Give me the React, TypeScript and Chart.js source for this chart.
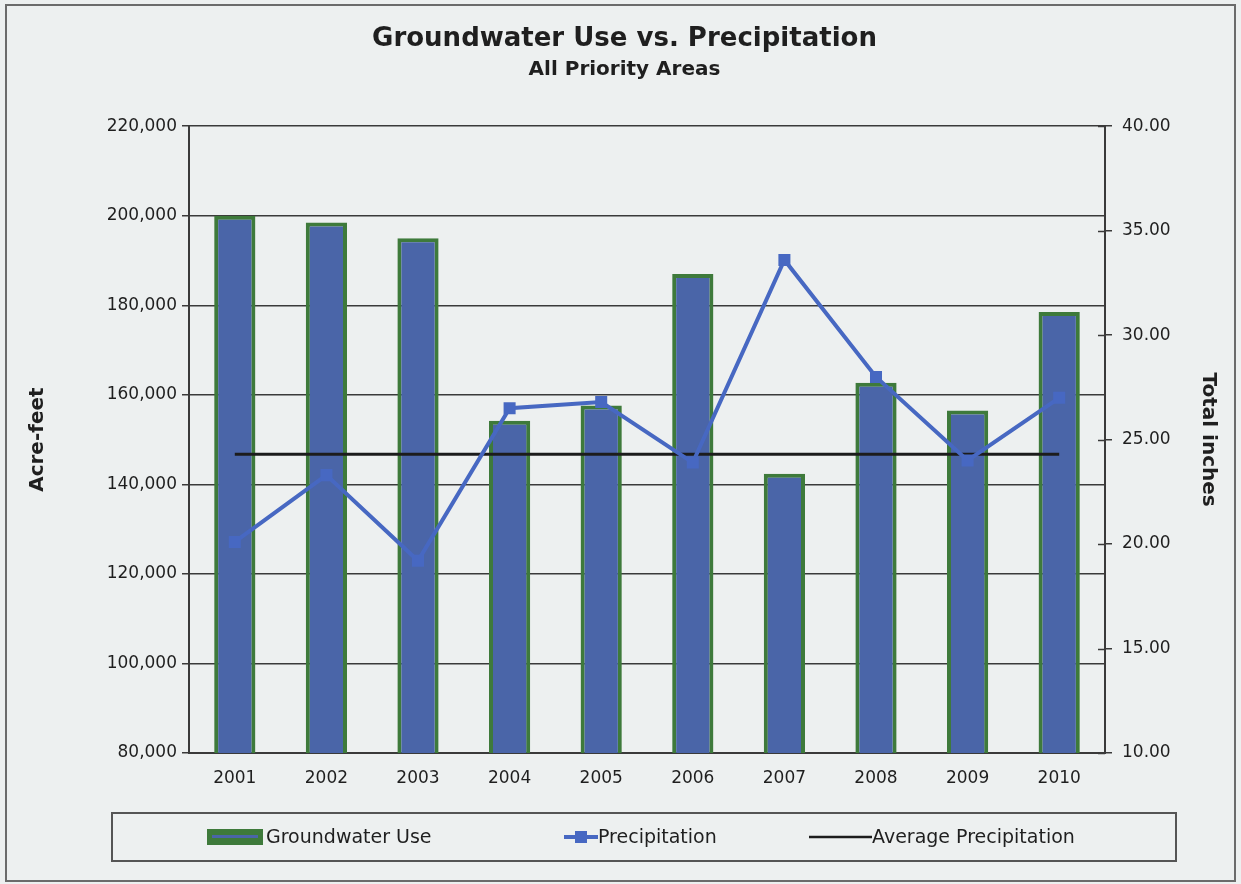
import React, { useEffect, useRef } from "react";
import { Chart, registerables } from "chart.js";

Chart.register(...registerables);

const years = ["2001", "2002", "2003", "2004", "2005", "2006", "2007", "2008", "2009", "2010"];
const groundwaterUse = [200000, 198500, 195000, 154200, 157600, 187000, 142400, 162700, 156500, 178500];
const precipitation = [20.1, 23.3, 19.2, 26.5, 26.8, 23.9, 33.6, 28.0, 24.0, 27.0];
const averagePrecipitation = [24.3, 24.3, 24.3, 24.3, 24.3, 24.3, 24.3, 24.3, 24.3, 24.3];

const FONT = "'DejaVu Sans', 'Liberation Sans', Arial, sans-serif";
const BG = "#edf0f0";
const BAR_FILL = "#4a65a8";
const BAR_BORDER = "#3e7a3b";
const LINE = "#4768c2";
const AVG = "#1c1c1c";
const TEXT = "#1f1f1f";
const GRID = "#3a3a3a";

const backgroundPlugin = {
  id: "bgFrame",
  beforeDraw(chart: any) {
    const { ctx, width, height } = chart;
    ctx.save();
    ctx.fillStyle = BG;
    ctx.fillRect(0, 0, width, height);
    ctx.strokeStyle = "#6b6b6b";
    ctx.lineWidth = 2;
    ctx.strokeRect(6, 5, width - 12, height - 8);
    ctx.restore();
  },
};

const rightTicksPlugin = {
  id: "rightInnerTicks",
  afterDraw(chart: any) {
    const s = chart.scales.y1;
    const { ctx, chartArea } = chart;
    ctx.save();
    ctx.strokeStyle = GRID;
    ctx.lineWidth = 1.5;
    s.ticks.forEach((_t: any, i: number) => {
      const y = Math.round(s.getPixelForTick(i)) + 0.5;
      ctx.beginPath();
      ctx.moveTo(chartArea.right - 7, y);
      ctx.lineTo(chartArea.right, y);
      ctx.stroke();
    });
    ctx.restore();
  },
};

const legendPlugin = {
  id: "boxLegend",
  afterDraw(chart: any) {
    const { ctx, chartArea } = chart;
    const top = chartArea.bottom + 60;
    const bottom = chartArea.bottom + 108;
    const left = 112;
    const right = 1176;
    const cy = (top + bottom) / 2;
    const ds = chart.data.datasets;
    ctx.save();
    ctx.strokeStyle = "#555";
    ctx.lineWidth = 2;
    ctx.strokeRect(left, top, right - left, bottom - top);
    ctx.font = `19px ${FONT}`;
    ctx.fillStyle = TEXT;
    ctx.textBaseline = "middle";
    ctx.textAlign = "left";

    // Groundwater Use swatch
    ctx.fillStyle = BAR_BORDER;
    ctx.fillRect(207, cy - 8, 56, 16);
    ctx.fillStyle = BAR_FILL;
    ctx.fillRect(212, cy - 2, 46, 3);
    ctx.fillStyle = TEXT;
    ctx.fillText(ds[0].label, 266, cy + 1);

    // Precipitation
    ctx.strokeStyle = LINE;
    ctx.lineWidth = 4;
    ctx.beginPath();
    ctx.moveTo(564, cy);
    ctx.lineTo(598, cy);
    ctx.stroke();
    ctx.fillStyle = LINE;
    ctx.fillRect(575, cy - 6, 12, 12);
    ctx.fillStyle = TEXT;
    ctx.fillText(ds[1].label, 598, cy + 1);

    // Average Precipitation
    ctx.strokeStyle = AVG;
    ctx.lineWidth = 2.5;
    ctx.beginPath();
    ctx.moveTo(809, cy);
    ctx.lineTo(872, cy);
    ctx.stroke();
    ctx.fillStyle = TEXT;
    ctx.fillText(ds[2].label, 872, cy + 1);
    ctx.restore();
  },
};

export default function App() {
  const ref = useRef<HTMLCanvasElement | null>(null);

  useEffect(() => {
    if (!ref.current) return;
    const chart = new Chart(ref.current, {
      data: {
        labels: years,
        datasets: [
          {
            type: "bar",
            label: "Groundwater Use",
            data: groundwaterUse,
            yAxisID: "y",
            backgroundColor: BAR_FILL,
            borderColor: BAR_BORDER,
            borderWidth: 4,
            barPercentage: 0.45,
            categoryPercentage: 1,
            order: 3,
          },
          {
            type: "line",
            label: "Precipitation",
            data: precipitation,
            yAxisID: "y1",
            borderColor: LINE,
            backgroundColor: LINE,
            borderWidth: 4,
            pointStyle: "rect",
            pointRadius: 8.5,
            pointBorderWidth: 0,
            tension: 0,
            order: 1,
          },
          {
            type: "line",
            label: "Average Precipitation",
            data: averagePrecipitation,
            yAxisID: "y1",
            borderColor: AVG,
            backgroundColor: AVG,
            borderWidth: 3,
            pointRadius: 0,
            order: 2,
          },
        ],
      } as any,
      options: {
        responsive: false,
        animation: false,
        devicePixelRatio: 1,
        layout: { padding: { top: 12, left: 8, right: 0, bottom: 101 } },
        plugins: {
          legend: { display: false },
          tooltip: { enabled: false },
          title: {
            display: true,
            text: "Groundwater Use vs. Precipitation",
            color: TEXT,
            font: { family: FONT, size: 26, weight: "bold" },
            padding: { top: 12, bottom: 0 },
          },
          subtitle: {
            display: true,
            text: "All Priority Areas",
            color: TEXT,
            font: { family: FONT, size: 20, weight: "bold" },
            padding: { top: 3, bottom: 44 },
          },
        },
        scales: {
          x: {
            type: "category",
            grid: { display: false, drawTicks: false },
            border: { display: true, color: GRID, width: 2 },
            ticks: { color: TEXT, font: { family: FONT, size: 17 }, padding: 15 },
            afterFit(scale: any) {
              scale.height = 30;
            },
          },
          y: {
            position: "left",
            min: 80000,
            max: 220000,
            ticks: {
              stepSize: 20000,
              color: TEXT,
              font: { family: FONT, size: 17 },
              padding: 5,
              callback: (v: any) => Number(v).toLocaleString("en-US"),
            },
            grid: { color: GRID, lineWidth: 1.5, tickLength: 7 },
            border: { display: true, color: GRID, width: 2 },
            title: {
              display: true,
              text: "Acre-feet",
              color: TEXT,
              font: { family: FONT, size: 20, weight: "bold" },
              padding: { top: 18, bottom: 0 },
            },
            afterFit(scale: any) {
              scale.width = 181;
            },
          },
          y1: {
            position: "right",
            min: 10,
            max: 40,
            ticks: {
              stepSize: 5,
              color: TEXT,
              font: { family: FONT, size: 17 },
              padding: 10,
              callback: (v: any) => Number(v).toFixed(2),
            },
            grid: { drawOnChartArea: false, color: GRID, lineWidth: 1.5, tickLength: 7 },
            border: { display: true, color: GRID, width: 2 },
            title: {
              display: true,
              text: "Total inches",
              color: TEXT,
              font: { family: FONT, size: 20, weight: "bold" },
              padding: { top: 21, bottom: 0 },
            },
            afterFit(scale: any) {
              scale.width = 136;
            },
          },
        },
      } as any,
      plugins: [backgroundPlugin, rightTicksPlugin, legendPlugin],
    });
    return () => chart.destroy();
  }, []);

  return (
    <div style={{ position: "absolute", left: 0, top: 0, width: 1241, height: 884 }}>
      <canvas ref={ref} width={1241} height={884} style={{ display: "block" }} />
    </div>
  );
}
